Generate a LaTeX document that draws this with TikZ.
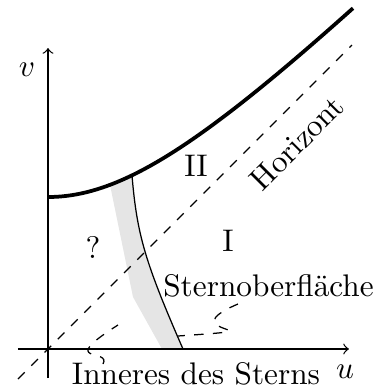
\documentclass[tikz,border=0pt]{standalone}
\usepackage{fontspec}
\begin{document}
\begin{tikzpicture}[x=0.32pt,y=-0.32pt,
  lbl/.style={inner sep=0pt, anchor=center},
  axisline/.style={->, line width=0.4pt},
  dashline/.style={dashed, line width=0.4pt},
  singular/.style={line width=1.2pt},
  surfline/.style={line width=0.4pt},
  band/.style={fill=gray!20, draw=none}]
\useasboundingbox (0,0) rectangle (384,389);
% coordinates
\coordinate (O) at (48,349);
\coordinate (uS) at (18,349);
\coordinate (uE) at (349,349);
\coordinate (vS) at (48,378);
\coordinate (vE) at (48,48);
\coordinate (hS) at (18,379);
\coordinate (hE) at (352,45);
\coordinate (sTop) at (132,175.3);
\coordinate (sBot) at (183,349);
\coordinate (gTop) at (110,184.8);
\coordinate (gMid) at (133,297);
\coordinate (gBot) at (162,349);
% grey band (interior of the star)
\path[band] (gTop) -- (gMid) -- (gBot) -- (sBot)
  .. controls (145,262) and (137,235) .. (sTop) -- cycle;
% star surface
\draw[surfline] (sTop) .. controls (137,235) and (145,262) .. (sBot);
% axes
\draw[axisline] (uS) -- (uE);
\draw[axisline] (vS) -- (vE);
% horizon
\draw[dashline] (hS) -- (hE);
% singularity
\draw[singular] plot[domain=0:305,samples=90,smooth]
  ({48+\x},{349-152*sqrt(1+(\x/152)^2)});
% labels
\node[lbl] (v) at (27,70) {$v$};
\node[lbl] (u) at (345,372) {$u$};
\node[lbl] (II) at (196,166) {II};
\node[lbl] (I) at (228,241) {I};
\node[lbl] (q) at (93,247) {?};
\node[lbl, rotate=45] (hor) at (297,143) {Horizont};
\node[lbl] (surf) at (268.5,286) {Sternoberfläche};
\node[lbl] (inner) at (196,374) {Inneres des Sterns};
% connectors from labels
\coordinate (surfStart) at (238,304);
\coordinate (surfEnd) at (178,336);
\draw[dashline] (surfStart) .. controls (165,335) and (295,328) .. (surfEnd);
\coordinate (innerStart) at (103,364);
\coordinate (innerEnd) at (118,325);
\draw[dashline] (innerStart) .. controls (112,348) and (55,365) .. (innerEnd);
\end{tikzpicture}
\end{document}
